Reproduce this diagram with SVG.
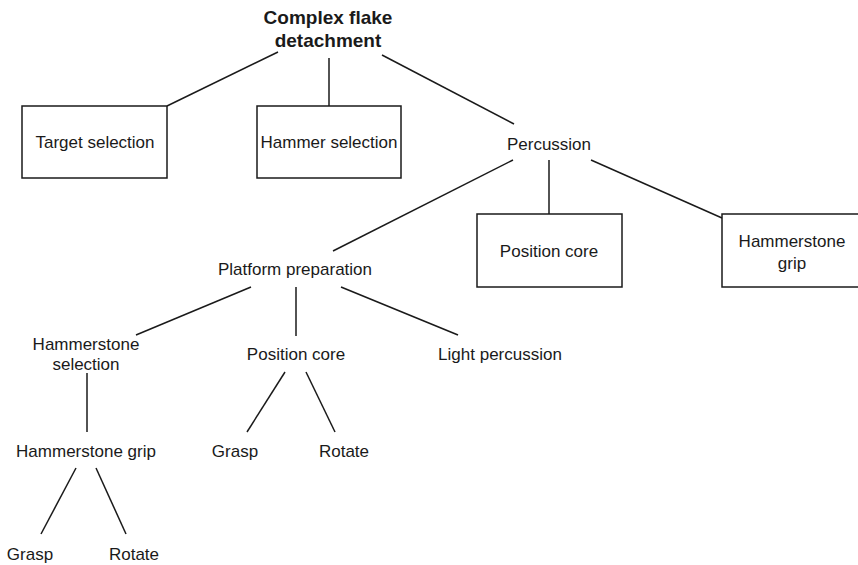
<svg xmlns="http://www.w3.org/2000/svg" width="858" height="565" viewBox="0 0 858 565">
<style>
text{font-family:"Liberation Sans",Arial,sans-serif;font-size:17px;fill:#1a1a1a;text-anchor:middle}
.t{font-weight:bold;font-size:19px}
rect{fill:#fff;stroke:#1a1a1a;stroke-width:1.5}
line{stroke:#1a1a1a;stroke-width:1.5}
</style>
<rect x="0" y="0" width="858" height="565" style="stroke:none"/>
<g id="connectors">
<line x1="278" y1="52" x2="167" y2="106"/>
<line x1="329" y1="58" x2="329" y2="106"/>
<line x1="382" y1="55" x2="514" y2="124"/>
<line x1="513" y1="160" x2="333" y2="251"/>
<line x1="549" y1="160" x2="549" y2="214"/>
<line x1="591" y1="160" x2="722" y2="218"/>
<line x1="251" y1="287" x2="136" y2="335"/>
<line x1="296" y1="287" x2="296" y2="336"/>
<line x1="341" y1="287" x2="458" y2="335"/>
<line x1="87" y1="373" x2="87" y2="432"/>
<line x1="285" y1="372" x2="247" y2="432"/>
<line x1="306" y1="372" x2="335" y2="432"/>
<line x1="76" y1="468" x2="41" y2="534"/>
<line x1="96" y1="468" x2="126" y2="534"/>
</g>
<g id="root"><text class="t" x="328" y="24">Complex flake</text><text class="t" x="328" y="47">detachment</text></g>
<g id="target-selection"><rect x="22" y="106" width="145" height="72"/><text x="95" y="148">Target selection</text></g>
<g id="hammer-selection"><rect x="257" y="106" width="144" height="72"/><text x="329" y="148">Hammer selection</text></g>
<g id="percussion"><text x="549" y="150">Percussion</text></g>
<g id="position-core-box"><rect x="477" y="214" width="145" height="73"/><text x="549" y="257">Position core</text></g>
<g id="hammerstone-grip-box"><rect x="722" y="214" width="150" height="73"/><text x="792" y="247">Hammerstone</text><text x="792" y="269">grip</text></g>
<g id="platform-preparation"><text x="295" y="275">Platform preparation</text></g>
<g id="hammerstone-selection"><text x="86" y="350">Hammerstone</text><text x="86" y="370">selection</text></g>
<g id="position-core"><text x="296" y="360">Position core</text></g>
<g id="light-percussion"><text x="500" y="360">Light percussion</text></g>
<g id="hammerstone-grip"><text x="86" y="457">Hammerstone grip</text></g>
<g id="grasp-1"><text x="235" y="457">Grasp</text></g>
<g id="rotate-1"><text x="344" y="457">Rotate</text></g>
<g id="grasp-2"><text x="30" y="560">Grasp</text></g>
<g id="rotate-2"><text x="134" y="560">Rotate</text></g>
</svg>
